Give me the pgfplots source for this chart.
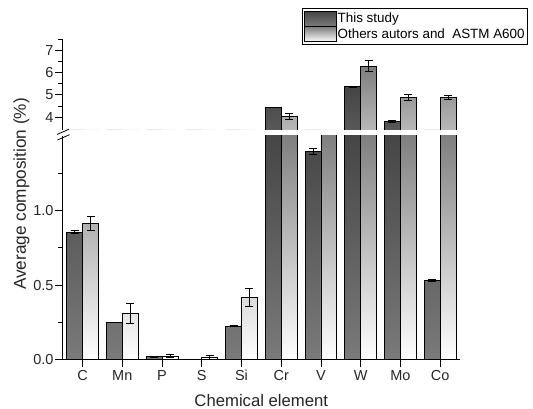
\documentclass[border=0pt]{standalone}
\usepackage{fontspec}
\setmainfont{Liberation Sans}
\usepackage{pgfplots}
\usepackage{pgfplotstable}
\pgfplotsset{compat=1.18}

\definecolor{thistop}{HTML}{454545}
\definecolor{thisbot}{HTML}{7A7A7A}
\definecolor{othtop}{HTML}{7D7D7D}
\definecolor{othbot}{HTML}{FFFFFF}
\definecolor{txt}{HTML}{262626}

% x: C Mn P S Si Cr V W Mo Co
\pgfplotstableread{
x  this   ethis  oth    eoth
0  0.855  0.010  0.913  0.047
1  0.249  0.000  0.310  0.067
2  0.018  0.003  0.020  0.010
3  0.000  0.000  0.013  0.015
4  0.225  0.003  0.417  0.060
5  4.450  0.000  4.030  0.130
6  1.400  0.020  1.900  0.000
7  5.370  0.030  6.290  0.250
8  3.830  0.040  4.880  0.140
9  0.530  0.005  4.880  0.080
}\comp

\pgfplotsset{
  breakbase/.style={
    scale only axis, width=397.3pt,
    xmin=-0.5, xmax=9.5,
    ybar, bar width=0.4,
    tick align=outside,
    major tick length=7.5pt, minor tick length=4.3pt,
    tick style={black, line width=0.8pt},
    axis line style={black, line width=0.8pt},
    tick label style={font=\fontsize{14.5}{17}\selectfont, text=txt},
    yticklabel style={inner xsep=1.5pt},
    /pgf/number format/assume math mode=true,
  },
  thisbar/.style={bar shift=-0.2, draw=black, line width=0.7pt, top color=thistop, bottom color=thisbot},
  othbar/.style={bar shift=0.2, draw=black, line width=0.7pt, top color=othtop, bottom color=othbot},
  errs/.style={error bars/.cd, y dir=both, y explicit,
    error bar style={draw=black, line width=0.8pt},
    error mark options={draw=black, line width=0.8pt, mark size=4pt, rotate=90}},
}

\begin{document}
\begin{tikzpicture}
\useasboundingbox (0,0) rectangle (533pt,409pt);

% lower part, 0 to 1.5
\begin{axis}[breakbase,
  at={(62.7pt,49.7pt)}, anchor=south west, height=223.6pt,
  ymin=0, ymax=1.505,
  axis x line*=bottom, axis y line*=left,
  xtick={0,...,9}, xticklabels={C,Mn,P,S,Si,Cr,V,W,Mo,Co},
  ytick={0,0.5,1}, minor ytick={0.25,0.75,1.25},
  yticklabel style={/pgf/number format/.cd, fixed, fixed zerofill, precision=1},
]
\addplot[thisbar, y filter/.expression={min(y,1.53)}] table[x=x, y=this] {\comp};
\addplot[othbar, y filter/.expression={min(y,1.53)}] table[x=x, y=oth] {\comp};
\addplot[bar shift=-0.2, draw=none, fill=none, errs] table[x=x, y=this, y error=ethis] {\comp};
\addplot[bar shift=0.2, draw=none, fill=none, errs] table[x=x, y=oth, y error=eoth] {\comp};
\end{axis}

% upper part, 3.43 to 7.5 (shifted so bars start at the break)
\begin{axis}[breakbase,
  at={(62.7pt,279pt)}, anchor=south west, height=91pt,
  ymin=0, ymax=4.07,
  axis x line=none, axis y line*=left,
  ytick={0.57,1.57,2.57,3.57}, yticklabels={4,5,6,7},
  minor ytick={1.07,2.07,3.07,4.07},
  y filter/.expression={y-3.43},
  legend style={at={(1.1712,1.3374)}, anchor=north east, draw=black, line width=0.8pt,
    inner sep=2pt, row sep=0pt, nodes={inner sep=1pt}, cells={anchor=west},
    font=\fontsize{13.4}{15}\selectfont, text=black,
    /tikz/every even column/.append style={column sep=4pt}},
  legend image code/.code={\draw[#1] (0pt,-7.5pt) rectangle (32pt,7.5pt);},
]
\addplot[thisbar, errs] table[x=x, y=this, y error=ethis] {\comp};
\addplot[othbar, errs] table[x=x, y=oth, y error=eoth] {\comp};
\legend{This study, Others autors and\ \ ASTM A600}
\end{axis}

% axis break marks
\draw[line width=0.8pt] (57pt,274.5pt) -- (69pt,279.8pt);
\draw[line width=0.8pt] (57.5pt,269pt) -- (69.5pt,274.3pt);

\node[rotate=90, font=\fontsize{17.2}{20}\selectfont, text=txt] at (21.5pt,215pt) {Average composition (\%)};
\node[anchor=base, font=\fontsize{16.7}{20}\selectfont, text=txt] at (261.3pt,2.5pt) {Chemical element};
\end{tikzpicture}
\end{document}
